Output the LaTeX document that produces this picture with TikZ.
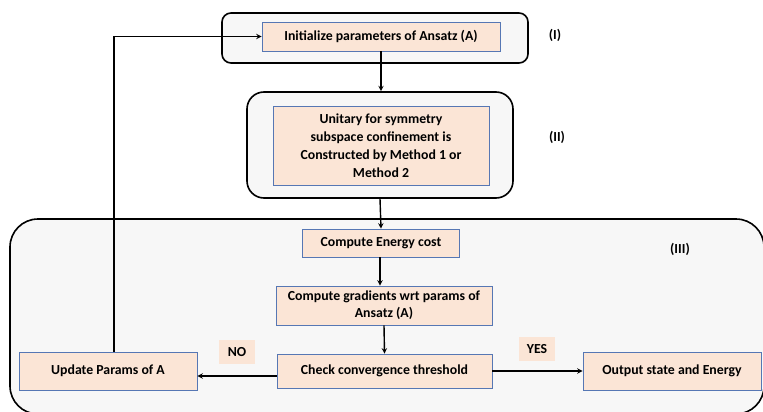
\documentclass[tikz,border=0pt]{standalone}
\usepackage{fontspec}
\setmainfont{Carlito}
\definecolor{peach}{HTML}{FBE5D6}
\definecolor{boxblue}{HTML}{5677B4}
\definecolor{panel}{HTML}{F7F7F7}
\begin{document}
\begin{tikzpicture}[x=1pt,y=-1pt,>=stealth,font=\bfseries\fontsize{13.8}{18}\selectfont,
	stagebox/.style={draw=black,line width=1.6pt,fill=panel,rounded corners=#1,inner sep=0pt},
	taskbox/.style={draw=boxblue,line width=0.8pt,fill=peach,align=center,inner sep=2pt},
	answer/.style={fill=peach,minimum width=36pt,minimum height=24pt},
	flow/.style={->,line width=1.4pt}]
		\useasboundingbox (0,0) rectangle (763,412);
		\clip (0,0) rectangle (763,412);
		% the three stages
		\node[stagebox=9pt,minimum width=306pt,minimum height=50pt] (stageI) at (375,38) {};
		\node[stagebox=17pt,minimum width=266pt,minimum height=106pt] (stageII) at (380,145) {};
		\node[stagebox=28pt,minimum width=754pt,minimum height=195pt] (stageIII) at (387,316.5) {};
		\node at (555,35) {(I)};
		\node at (557,137) {(II)};
		\node at (680,249) {(III)};
		% steps
		\node[taskbox,minimum width=238pt,minimum height=29pt] (init) at (381,36.5) {Initialize parameters of Ansatz (A)};
		\node[taskbox,minimum width=216pt,minimum height=79pt] (unitary) at (381,145.5)
			{Unitary for symmetry\\ subspace confinement is\\ Constructed by Method 1 or\\ Method 2};
		\node[taskbox,minimum width=157pt,minimum height=28pt] (energy) at (381,243) {Compute Energy cost};
		\node[taskbox,minimum width=216pt,minimum height=39pt,font=\bfseries\fontsize{13.8}{17}\selectfont] (grad) at (384,305.5)
			{Compute gradients wrt params of\\ Ansatz (A)};
		\node[taskbox,minimum width=215pt,minimum height=34pt] (check) at (384.5,371) {Check convergence threshold};
		\node[taskbox,minimum width=178pt,minimum height=38pt] (update) at (108,371) {Update Params of A};
		\node[taskbox,minimum width=178pt,minimum height=38pt] (output) at (672,371) {Output state and Energy};
		\node[answer] (no) at (237,352) {NO};
		\node[answer] (yes) at (537,349) {YES};
		% arrows
		\draw[flow] (init.south) -- (init.south |- stageII.north);
		\draw[flow] (stageII.south) -- (energy.north);
		\draw[flow] ([xshift=-1pt]energy.south) -- ([xshift=-1pt]energy.south |- grad.north);
		\draw[flow] (grad.south) -- (check.north);
		\draw[flow] ([yshift=-5pt]check.west) -- ([yshift=-5pt]update.east);
		\draw[flow] (check.east) -- (output.west);
		\draw[flow] ([xshift=6pt]update.north) |- (init.west);
\end{tikzpicture}
\end{document}
